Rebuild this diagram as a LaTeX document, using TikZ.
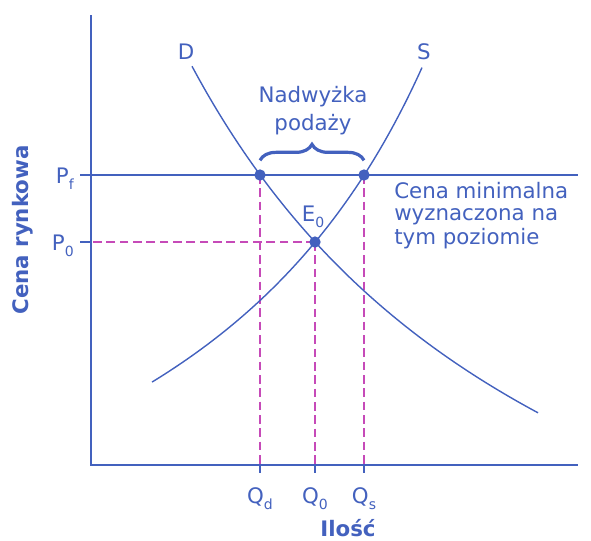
\documentclass[tikz,border=0pt]{standalone}
\usepackage{fontspec}
\setmainfont{DejaVu Sans}
\usetikzlibrary{decorations.pathreplacing}
\definecolor{ink}{HTML}{4361BE}
\definecolor{guide}{HTML}{C64AB8}
\newcommand{\lbl}{\fontsize{16}{16.5}\selectfont}
\newcommand{\sub}[1]{\raisebox{-5pt}{\fontsize{10.5}{10.5}\selectfont #1}}
\tikzset{
  font=\lbl,
  axis/.style={draw=ink, line width=1pt},
  curve/.style={draw=ink, line width=1.05pt},
  guideline/.style={draw=guide, line width=0.95pt, dash pattern=on 6.5pt off 3.5pt},
  dot/.style={circle, fill=ink, inner sep=0pt, minimum size=8.5pt},
  lab/.style={text=ink, inner sep=0pt},
  axlab/.style={lab, font=\lbl\bfseries},
  brace/.style={draw=ink, line width=2.4pt, decorate, decoration={brace, amplitude=12pt}}
}

\begin{document}
\begin{tikzpicture}[x=0.75pt,y=-0.75pt]
  \useasboundingbox (0,0) rectangle (591,540);

  % key points
  \coordinate (pd) at (260,175);
  \coordinate (ps) at (364,175);
  \coordinate (e0) at (315,242);
  \coordinate (p0) at (91,242);
  \coordinate (qd) at (260,465);
  \coordinate (q0) at (315,465);
  \coordinate (qs) at (364,465);

  % guides
  \draw[guideline] (e0) -- (p0);
  \draw[guideline] (pd) -- (qd);
  \draw[guideline] (e0) -- (q0);
  \draw[guideline] (ps) -- (qs);

  % axes and price floor
  \draw[axis] (91,15) -- (91,465) -- (578,465);
  \draw[axis] (80,175) -- (578,175);
  \draw[axis] (80,242) -- (p0);
  \foreach \q in {qd,q0,qs}
    \draw[axis] (\q) -- ++(0,8);

  % demand and supply
  \draw[curve] plot[domain=192:538, samples=90]
    (\x, {814 - 2993.94/(0.01*\x + 2.085)});
  \draw[curve] plot[domain=152:422, samples=90]
    (\x, {730.4 - 1980.85/(7.206 - 0.01*\x)});

  \node[dot] (dd) at (pd) {};
  \node[dot] (ds) at (ps) {};
  \node[dot] (de) at (e0) {};

  % surplus
  \draw[brace] ([yshift=11pt]dd.center) -- ([yshift=11pt]ds.center);
  \node[lab, align=center, anchor=base] (surplus) at (313,130) {Nadwyżka\\[4pt]podaży};

  % labels
  \node[lab, anchor=base] (dlab) at (186,59) {D};
  \node[lab, anchor=base] (slab) at (424,59) {S};
  \node[lab, anchor=base] (elab) at (313,221) {E\sub{0}};
  \node[lab, anchor=base east] (pflab) at (74,183) {P\sub{f}};
  \node[lab, anchor=base east] (p0lab) at (74,250) {P\sub{0}};
  \node[lab, anchor=base] (qdlab) at (260,503) {Q\sub{d}};
  \node[lab, anchor=base] (q0lab) at (315,503) {Q\sub{0}};
  \node[lab, anchor=base] (qslab) at (364,503) {Q\sub{s}};
  \node[lab, anchor=base west, align=left] (floor) at (394,244)
    {Cena minimalna\\wyznaczona na\\[1.5pt]tym poziomie};
  \node[axlab, anchor=base] (xlab) at (348,536) {Ilość};
  \node[axlab, rotate=90, anchor=base] (ylab) at (28,230) {Cena rynkowa};
\end{tikzpicture}
\end{document}
